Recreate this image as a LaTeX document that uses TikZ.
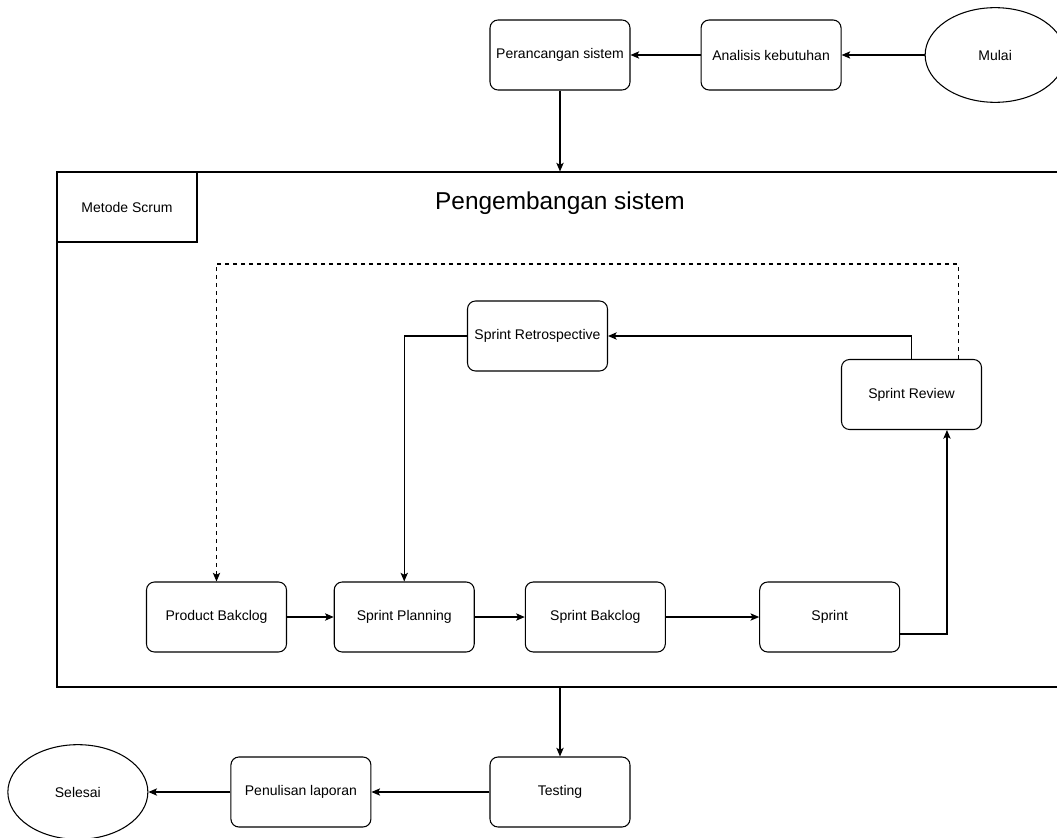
\documentclass[tikz,border=0pt]{standalone}
\usepackage{fontspec}
\setmainfont{Liberation Sans}
\usetikzlibrary{positioning,shapes.geometric,arrows.meta}

\begin{document}
\begin{tikzpicture}[
		x=0.75pt,
		y=-0.75pt,
		line width=0.8pt,
		>={Stealth[length=6.5pt,width=5.5pt,inset=1.5pt]},
		font=\fontsize{10.5}{12.6}\selectfont,
		box/.style={draw,rounded corners=6pt,minimum width=105pt,minimum height=52.5pt,align=center},
		terminal/.style={draw,ellipse,minimum width=105pt,minimum height=71pt}
	]

	\useasboundingbox (0,0) rectangle (1057,838);

	\node [draw,minimum width=756pt,minimum height=386.25pt] (frame) at (561,429.5) {};
	\node [draw,minimum width=105pt,minimum height=52.5pt,anchor=north west] (metode) at (frame.north west) {Metode Scrum};
	\node [font=\fontsize{18.3}{22}\selectfont] (judul) at (560,203) {Pengembangan sistem};

	\node [box] (perancangan) at (560,55) {Perancangan sistem};
	\node [box,right=52.5pt of perancangan] (analisis) {Analisis kebutuhan};
	\node [terminal,right=62.25pt of analisis] (mulai) {Mulai};

	\node [box] (retro) at (537.5,336) {Sprint Retrospective};
	\node [box] (review) at (911.5,394.5) {Sprint Review};

	\node [box] (product) at (216.5,617) {Product Bakclog};
	\node [box,right=35pt of product] (planning) {Sprint Planning};
	\node [box,right=37.5pt of planning] (bakclog) {Sprint Bakclog};
	\node [box,right=70pt of bakclog] (sprint) {Sprint};

	\node [box] (testing) at (560,792) {Testing};
	\node [box,left=88.5pt of testing] (laporan) {Penulisan laporan};
	\node [terminal,left=61.5pt of laporan] (selesai) {Selesai};

	\draw [->] (mulai) -- (analisis);
	\draw [->] (analisis) -- (perancangan);
	\draw [->] (perancangan) -- (perancangan |- frame.north);

	\draw [->] (product) -- (planning);
	\draw [->] (planning) -- (bakclog);
	\draw [->] (bakclog) -- (sprint);
	\draw [->] ([yshift=-12.75pt]sprint.east) -| ([xshift=26.6pt]review.south);
	\draw [->] (review) |- (retro);
	\draw [->] (retro) -| (planning);
	\draw [->,dashed] ([xshift=34.9pt]review.north) -- ++(0,-95) -| (product);

	\draw [->] (frame.south -| testing) -- (testing);
	\draw [->] (testing) -- (laporan);
	\draw [->] (laporan) -- (selesai);
\end{tikzpicture}
\end{document}
